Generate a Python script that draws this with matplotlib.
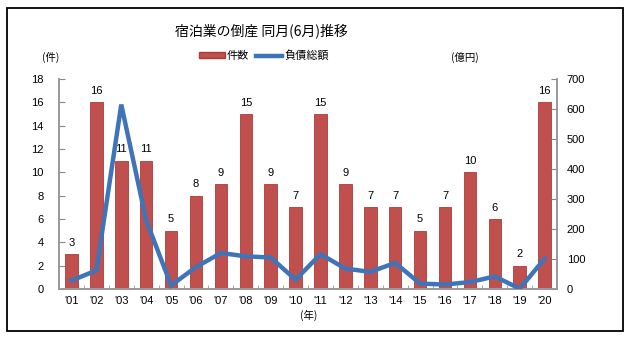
#!/usr/bin/env python3
"""Bankruptcies in the lodging industry, June of each year ('01-'20)."""

import matplotlib.pyplot as plt
import numpy as np
from matplotlib.patches import Rectangle
from matplotlib.lines import Line2D
from matplotlib.patches import Patch

plt.rcParams["font.family"] = ["Liberation Sans", "Noto Sans CJK JP", "DejaVu Sans"]

years = ["'01", "'02", "'03", "'04", "'05", "'06", "'07", "'08", "'09", "'10",
         "'11", "'12", "'13", "'14", "'15", "'16", "'17", "'18", "'19", "'20"]
counts = [3, 16, 11, 11, 5, 8, 9, 15, 9, 7, 15, 9, 7, 7, 5, 7, 10, 6, 2, 16]
debt = [28, 62, 615, 229, 12, 73, 120, 109, 105, 31,
        116, 68, 57, 87, 18, 15, 23, 42, 1, 101]

BAR_COLOR = "#C0504D"
LINE_COLOR = "#3F74B8"
CJK = ["Noto Sans CJK JP", "DejaVu Sans"]

fig = plt.figure(figsize=(6.32, 3.38), dpi=100)
ax = fig.add_axes([0.0934, 0.145, 0.788, 0.621])
ax2 = ax.twinx()

x = np.arange(len(years))
ax.bar(x, counts, width=0.5, color=BAR_COLOR, edgecolor="#B03A37", linewidth=0.6, zorder=2)
for xi, c in zip(x, counts):
    ax.text(xi, c + 0.55, str(c), ha="center", va="bottom", fontsize=8)

ax2.plot(x, debt, color=LINE_COLOR, linewidth=3.2, solid_joinstyle="miter", zorder=3)

ax.set_xlim(-0.5, len(years) - 0.5)
ax.set_ylim(0, 18)
ax.set_yticks(range(0, 19, 2))
ax2.set_ylim(0, 700)
ax2.set_yticks(range(0, 701, 100))

ax.set_xticks(x)
ax.set_xticklabels(years, fontsize=8)
ax.set_xticks(np.arange(-0.5, len(years), 1), minor=True)
ax.tick_params(axis="x", which="major", length=0, pad=5)
ax.tick_params(axis="x", which="minor", direction="in", length=3, color="#999999")
ax.tick_params(axis="y", direction="in", length=4, color="#888888", labelsize=8, pad=11)
ax2.tick_params(axis="y", direction="in", length=4, color="#888888", labelsize=8, pad=7)

for a in (ax, ax2):
    a.spines["top"].set_visible(False)
    for s in ("left", "right", "bottom"):
        a.spines[s].set_color("#999999")
        a.spines[s].set_linewidth(1.2)
ax.set_zorder(ax2.get_zorder() - 1)
ax.patch.set_visible(True)
ax2.patch.set_visible(False)

fig.text(0.413, 0.908, "宿泊業の倒産 同月(6月)推移", ha="center", va="center",
         fontsize=10, family=CJK)
fig.text(0.08, 0.83, "(件)", ha="center", va="center", fontsize=7.5, family=CJK)
fig.text(0.736, 0.83, "(億円)", ha="center", va="center", fontsize=7.5, family=CJK)
fig.text(0.489, 0.068, "(年)", ha="center", va="center", fontsize=7.5, family=CJK)

handles = [Patch(facecolor=BAR_COLOR, edgecolor="#B03A37"),
           Line2D([0], [0], color=LINE_COLOR, linewidth=3.2)]
fig.legend(handles, ["件数", "負債総額"], loc="center", bbox_to_anchor=(0.417, 0.835),
           ncol=2, frameon=False, prop={"family": CJK, "size": 8},
           handlelength=2.4, handleheight=0.5, handletextpad=0.15, columnspacing=0.6)

# outer frame
fig.patches.append(Rectangle((0.011, 0.021), 0.974, 0.955, transform=fig.transFigure,
                             fill=False, edgecolor="black", linewidth=1.3))

fig.savefig("out.png", dpi=100)
